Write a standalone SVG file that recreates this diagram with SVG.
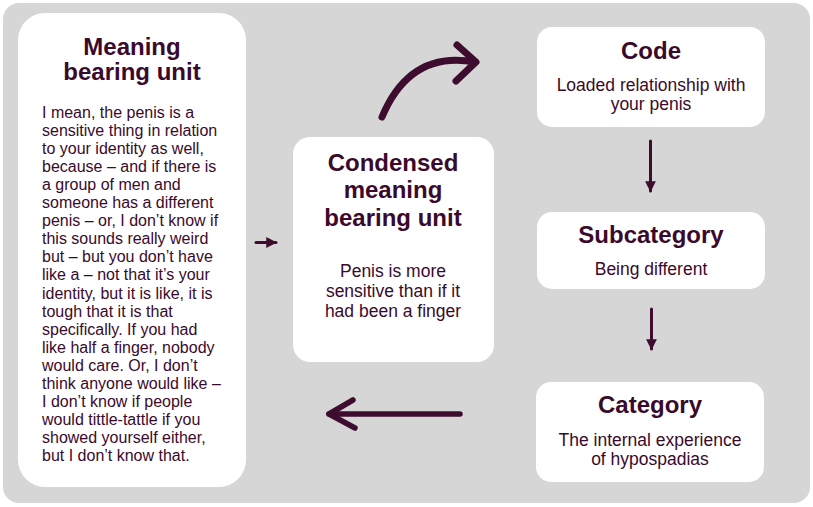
<svg xmlns="http://www.w3.org/2000/svg" width="813" height="507" viewBox="0 0 813 507">
<defs>
<style>
.bg{fill:#d6d6d6}
.box{fill:#ffffff}
.t{font-family:"Liberation Sans",Arial,sans-serif;font-weight:bold;font-size:24px;fill:#3a0a2c;text-anchor:middle}
.b{font-family:"Liberation Sans",Arial,sans-serif;font-size:17.5px;fill:#3a0a2c;text-anchor:middle}
.l{font-family:"Liberation Sans",Arial,sans-serif;font-size:16px;fill:#3a0a2c}
.arr{fill:none;stroke:#3d0c2f;stroke-linecap:round;stroke-linejoin:round}
</style>
<marker id="tri" viewBox="0 0 10 10" refX="9" refY="5" markerWidth="3.6" markerHeight="3.6" orient="auto" markerUnits="strokeWidth">
<path d="M0,0 L10,5 L0,10 Z" fill="#3d0c2f"/>
</marker>
</defs>
<rect width="813" height="507" fill="#ffffff"/>
<rect class="bg" x="3" y="3" width="807" height="500" rx="16"/>

<g id="meaning-unit">
<rect class="box" x="18" y="13" width="228" height="474" rx="27"/>
<text class="t" x="132" y="55">Meaning</text>
<text class="t" x="132" y="80">bearing unit</text>
<text class="l" x="42" y="117.5">
<tspan x="42" dy="0">I mean, the penis is a</tspan>
<tspan x="42" dy="18.1">sensitive thing in relation</tspan>
<tspan x="42" dy="18.1">to your identity as well,</tspan>
<tspan x="42" dy="18.1">because – and if there is</tspan>
<tspan x="42" dy="18.1">a group of men and</tspan>
<tspan x="42" dy="18.1">someone has a different</tspan>
<tspan x="42" dy="18.1">penis – or, I don’t know if</tspan>
<tspan x="42" dy="18.1">this sounds really weird</tspan>
<tspan x="42" dy="18.1">but – but you don’t have</tspan>
<tspan x="42" dy="18.1">like a – not that it’s your</tspan>
<tspan x="42" dy="18.1">identity, but it is like, it is</tspan>
<tspan x="42" dy="18.1">tough that it is that</tspan>
<tspan x="42" dy="18.1">specifically. If you had</tspan>
<tspan x="42" dy="18.1">like half a finger, nobody</tspan>
<tspan x="42" dy="18.1">would care. Or, I don’t</tspan>
<tspan x="42" dy="18.1">think anyone would like –</tspan>
<tspan x="42" dy="18.1">I don’t know if people</tspan>
<tspan x="42" dy="18.1">would tittle-tattle if you</tspan>
<tspan x="42" dy="18.1">showed yourself either,</tspan>
<tspan x="42" dy="18.1">but I don’t know that.</tspan>
</text>
</g>

<g id="condensed-unit">
<rect class="box" x="293" y="137" width="201" height="225" rx="17"/>
<text class="t" x="393" y="171">Condensed</text>
<text class="t" x="393" y="198">meaning</text>
<text class="t" x="393" y="226">bearing unit</text>
<text class="b" x="393" y="277">Penis is more</text>
<text class="b" x="393" y="297">sensitive than if it</text>
<text class="b" x="393" y="317">had been a finger</text>
</g>

<g id="code">
<rect class="box" x="537" y="27" width="228" height="100" rx="15"/>
<text class="t" x="651" y="59">Code</text>
<text class="b" x="651" y="91">Loaded relationship with</text>
<text class="b" x="651" y="110">your penis</text>
</g>

<g id="subcategory">
<rect class="box" x="537" y="212" width="228" height="77" rx="15"/>
<text class="t" x="651" y="243">Subcategory</text>
<text class="b" x="651" y="275">Being different</text>
</g>

<g id="category">
<rect class="box" x="536" y="382" width="228" height="100" rx="15"/>
<text class="t" x="650" y="413">Category</text>
<text class="b" x="650" y="446">The internal experience</text>
<text class="b" x="650" y="465">of hypospadias</text>
</g>

<g id="connectors">
<path class="arr" d="M256,242.5 H276" stroke-width="3" marker-end="url(#tri)"/>
<path class="arr" d="M382,117 Q410,50 475,62" stroke-width="7"/>
<path class="arr" d="M457,45 L476,62 L456,81" stroke-width="7"/>
<path class="arr" d="M460,414 H329" stroke-width="5.5"/>
<path class="arr" d="M353,400 L329,414 L355,428" stroke-width="5.5"/>
<path class="arr" d="M650.5,141 V191" stroke-width="3" marker-end="url(#tri)"/>
<path class="arr" d="M651.5,309 V349" stroke-width="3" marker-end="url(#tri)"/>
</g>
</svg>
